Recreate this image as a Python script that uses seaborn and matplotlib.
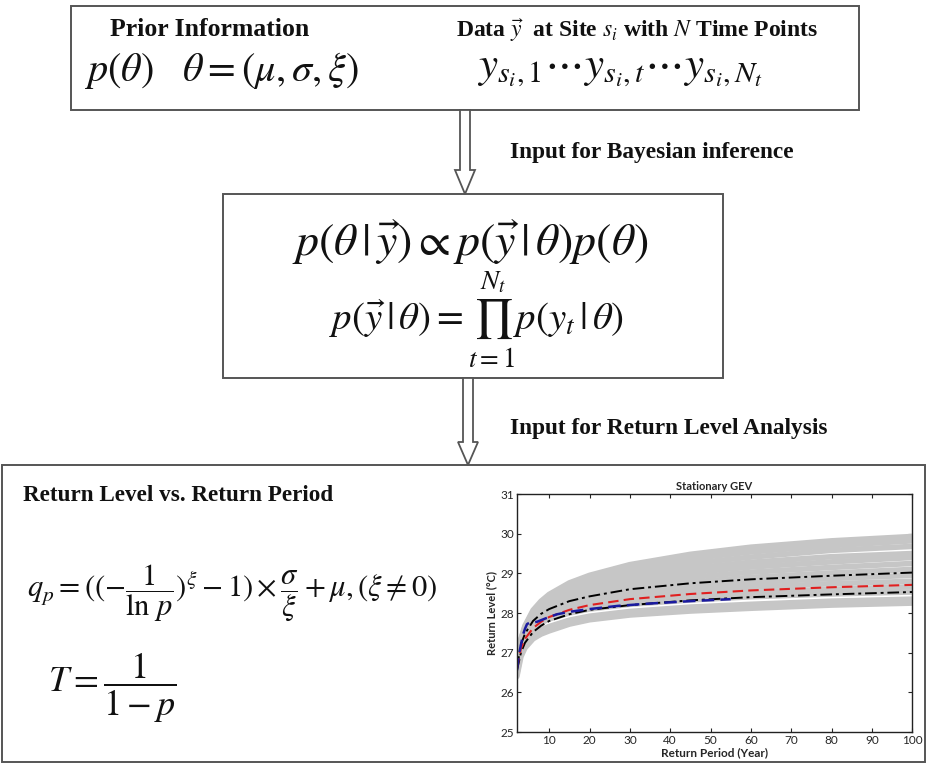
import numpy as np
import pandas as pd
import seaborn as sns
import matplotlib.pyplot as plt
from matplotlib.patches import Polygon, Rectangle

# data
periods = [2, 3, 4, 6, 8, 10, 15, 20, 30, 45, 60, 80, 100]
gray_runs = [
    [26.40, 26.90, 27.12, 27.35, 27.47, 27.55, 27.72, 27.83, 27.95, 28.05, 28.12, 28.20, 28.25],
    [26.45, 26.98, 27.22, 27.46, 27.58, 27.66, 27.82, 27.92, 28.04, 28.15, 28.22, 28.30, 28.35],
    [26.55, 27.10, 27.35, 27.62, 27.76, 27.85, 28.00, 28.10, 28.22, 28.33, 28.41, 28.48, 28.53],
    [26.60, 27.12, 27.38, 27.66, 27.80, 27.90, 28.07, 28.17, 28.30, 28.43, 28.52, 28.60, 28.66],
    [26.60, 27.15, 27.42, 27.70, 27.85, 27.96, 28.14, 28.25, 28.40, 28.55, 28.65, 28.74, 28.80],
    [26.62, 27.18, 27.45, 27.75, 27.92, 28.03, 28.22, 28.34, 28.50, 28.66, 28.77, 28.87, 28.95],
    [26.65, 27.20, 27.48, 27.80, 27.97, 28.09, 28.30, 28.43, 28.60, 28.78, 28.90, 29.01, 29.10],
    [26.65, 27.22, 27.52, 27.85, 28.03, 28.16, 28.38, 28.52, 28.71, 28.90, 29.03, 29.15, 29.25],
    [26.68, 27.25, 27.55, 27.90, 28.09, 28.23, 28.46, 28.61, 28.81, 29.02, 29.16, 29.29, 29.40],
    [26.70, 27.28, 27.58, 27.94, 28.14, 28.29, 28.53, 28.69, 28.91, 29.13, 29.28, 29.42, 29.50],
    [26.72, 27.30, 27.62, 27.98, 28.20, 28.36, 28.61, 28.78, 29.01, 29.25, 29.41, 29.58, 29.68],
    [26.75, 27.33, 27.65, 28.03, 28.25, 28.42, 28.69, 28.87, 29.12, 29.37, 29.54, 29.70, 29.82],
    [26.78, 27.35, 27.68, 28.07, 28.30, 28.47, 28.76, 28.95, 29.22, 29.48, 29.66, 29.82, 29.93],
]
median = [26.60, 27.10, 27.35, 27.62, 27.78, 27.90, 28.08, 28.20, 28.35, 28.48, 28.57, 28.65, 28.71]
upper_ci = [26.62, 27.20, 27.48, 27.80, 27.98, 28.10, 28.30, 28.42, 28.60, 28.75, 28.85, 28.94, 29.02]
lower_ci = [26.55, 27.00, 27.25, 27.52, 27.68, 27.80, 27.97, 28.08, 28.20, 28.32, 28.40, 28.47, 28.53]
obs_period = [2, 2.5, 3, 3.5, 4, 4.5, 5, 6, 7, 8, 10, 12, 15, 20, 27, 35, 45, 55]
obs_level = [26.55, 26.95, 27.20, 27.45, 27.60, 27.72, 27.75, 27.76, 27.78, 27.82, 27.90,
             27.97, 28.03, 28.10, 28.18, 28.24, 28.30, 28.35]
x_ticks = [10, 20, 30, 40, 50, 60, 70, 80, 90, 100]
y_ticks = [25, 26, 27, 28, 29, 30, 31]

sns.set_style("ticks")
plt.rcParams['font.family'] = ['Liberation Serif', 'DejaVu Serif']
plt.rcParams['mathtext.fontset'] = 'stix'

fig = plt.figure(figsize=(9.28, 7.65), dpi=100)
canvas = fig.add_axes([0, 0, 1, 1])
canvas.set_xlim(0, 928)
canvas.set_ylim(765, 0)
canvas.axis('off')

edge = '#555555'
for (x0, y0, x1, y1) in [(71, 6, 859, 110), (223, 194, 723, 378), (2, 465, 925, 762)]:
    canvas.add_patch(Rectangle((x0, y0), x1 - x0, y1 - y0, fill=False, ec=edge, lw=1.4))

def hollow_arrow(xc, top, head_top, tip, shaft_w, head_w):
    pts = [(xc - shaft_w / 2, top), (xc + shaft_w / 2, top), (xc + shaft_w / 2, head_top),
           (xc + head_w / 2, head_top), (xc, tip), (xc - head_w / 2, head_top),
           (xc - shaft_w / 2, head_top)]
    canvas.add_patch(Polygon(pts, closed=True, fc='white', ec=edge, lw=1.3))

hollow_arrow(465, 110, 170, 194, 10, 20)
hollow_arrow(468, 378, 442, 465, 10, 20)

bold = dict(fontweight='bold', color='#111111', ha='center', va='center')
canvas.text(210, 29, 'Prior Information', fontsize=18.5, **bold)
canvas.text(637, 30, r'Data $\vec{y}$  at Site $s_i$ with $N$ Time Points', fontsize=17, **bold)
canvas.text(652, 152, 'Input for Bayesian inference', fontsize=16.8, **bold)
canvas.text(669, 428, 'Input for Return Level Analysis', fontsize=16.8, **bold)
canvas.text(178, 495, 'Return Level vs. Return Period', fontsize=16.7, **bold)

math = dict(color='#111111', ha='center', va='center')
canvas.text(222, 70, r'$p(\theta)\quad\theta=(\mu,\sigma,\xi)$', fontsize=29, **math)
canvas.text(620, 70, r'$y_{s_i,1}\cdots y_{s_i,t}\cdots y_{s_i,N_t}$', fontsize=31, **math)
canvas.text(470, 243, r'$p(\theta\,|\,\vec{y})\propto p(\vec{y}\,|\,\theta)p(\theta)$', fontsize=33, **math)
canvas.text(476, 320, r'$p(\vec{y}\,|\,\theta)=\prod_{t=1}^{N_t}p(y_t\,|\,\theta)$', fontsize=28, **math)
canvas.text(232, 593, r'$q_p=((-\dfrac{1}{\ln\,p})^{\xi}-1)\times\dfrac{\sigma}{\xi}+\mu,(\xi\neq0)$', fontsize=22, **math)
canvas.text(112, 688, r'$T=\dfrac{1}{1-p}$', fontsize=26, **math)

# inset chart
ax = fig.add_axes([0.557, 0.0431, 0.426, 0.3111])
gray_df = pd.DataFrame([(i, t, v) for i, run in enumerate(gray_runs) for t, v in zip(periods, run)],
                       columns=['draw', 'T', 'level'])
sns.lineplot(data=gray_df, x='T', y='level', units='draw', estimator=None, ax=ax,
             color='#c6c6c6', lw=4, legend=False)
sns.lineplot(x=periods, y=upper_ci, ax=ax, color='black', lw=1.4, linestyle=(0, (6, 2, 1.5, 2)))
sns.lineplot(x=periods, y=lower_ci, ax=ax, color='black', lw=1.4, linestyle=(0, (6, 2, 1.5, 2)))
sns.lineplot(x=periods, y=median, ax=ax, color='#e02020', lw=1.5, linestyle=(0, (5, 2.5)))
sns.lineplot(x=obs_period, y=obs_level, ax=ax, color='#1a1aa0', lw=1.8, linestyle=(0, (5, 2.5)))

ax.set_xlim(2, 100)
ax.set_ylim(25, 31)
ax.set_xticks(x_ticks)
ax.set_yticks(y_ticks)
ax.tick_params(direction='in', length=3, labelsize=8.5, top=True, right=True, pad=2)
for lab in ax.get_xticklabels() + ax.get_yticklabels():
    lab.set_family('Lato')
for s in ax.spines.values():
    s.set_linewidth(1.0)
    s.set_color('#222222')
ax.set_title('Stationary GEV', fontsize=8, fontweight='bold', family='Lato', pad=3)
ax.set_xlabel('Return Period (Year)', fontsize=8.5, fontweight='bold', family='Lato', labelpad=1)
ax.set_ylabel('Return Level (\u00b0C)', fontsize=8, fontweight='bold', family='Lato', labelpad=2)

fig.savefig('out.png', dpi=100)
